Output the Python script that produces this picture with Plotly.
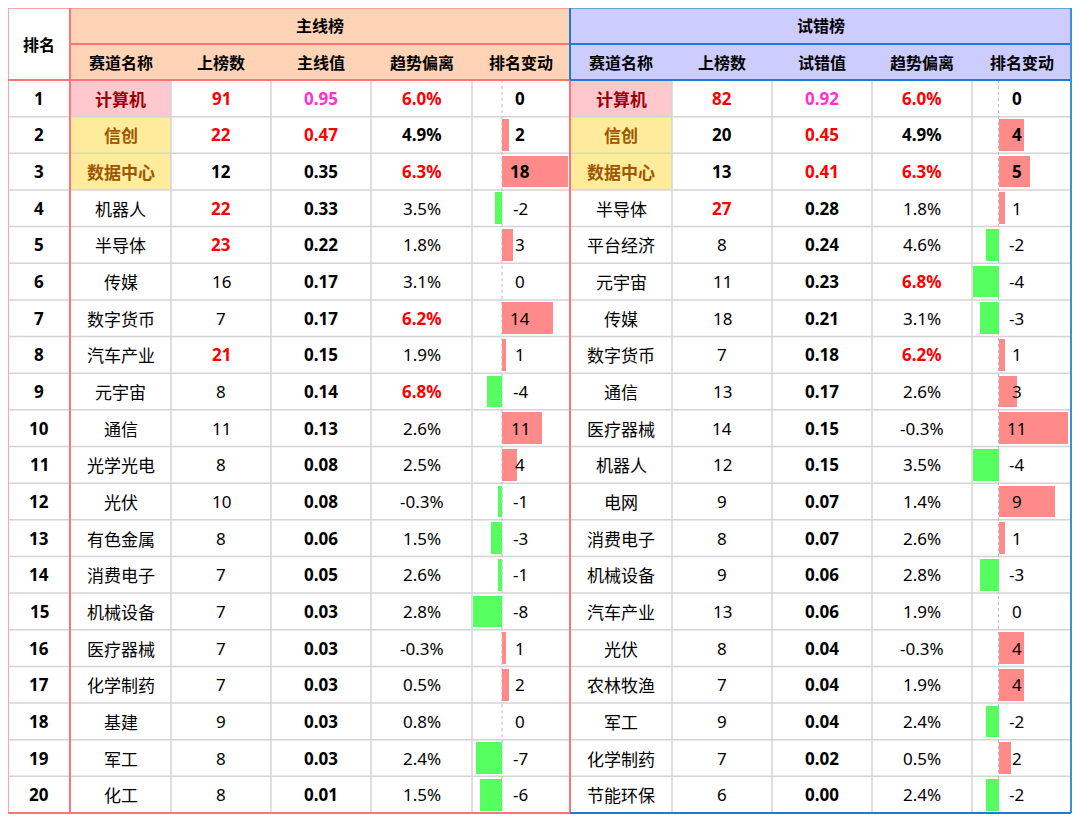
import plotly.graph_objects as go

# ---- data ----
ranks = list(range(1, 21))

main_names = ["计算机", "信创", "数据中心", "机器人", "半导体", "传媒", "数字货币", "汽车产业", "元宇宙", "通信",
              "光学光电", "光伏", "有色金属", "消费电子", "机械设备", "医疗器械", "化学制药", "基建", "军工", "化工"]
main_count = [91, 22, 12, 22, 23, 16, 7, 21, 8, 11, 8, 10, 8, 7, 7, 7, 7, 9, 8, 8]
main_value = [0.95, 0.47, 0.35, 0.33, 0.22, 0.17, 0.17, 0.15, 0.14, 0.13,
              0.08, 0.08, 0.06, 0.05, 0.03, 0.03, 0.03, 0.03, 0.03, 0.01]
main_dev = [6.0, 4.9, 6.3, 3.5, 1.8, 3.1, 6.2, 1.9, 6.8, 2.6,
            2.5, -0.3, 1.5, 2.6, 2.8, -0.3, 0.5, 0.8, 2.4, 1.5]
main_chg = [0, 2, 18, -2, 3, 0, 14, 1, -4, 11, 4, -1, -3, -1, -8, 1, 2, 0, -7, -6]

trial_names = ["计算机", "信创", "数据中心", "半导体", "平台经济", "元宇宙", "传媒", "数字货币", "通信", "医疗器械",
               "机器人", "电网", "消费电子", "机械设备", "汽车产业", "光伏", "农林牧渔", "军工", "化学制药", "节能环保"]
trial_count = [82, 20, 13, 27, 8, 11, 18, 7, 13, 14, 12, 9, 8, 9, 13, 8, 7, 9, 7, 6]
trial_value = [0.92, 0.45, 0.41, 0.28, 0.24, 0.23, 0.21, 0.18, 0.17, 0.15,
               0.15, 0.07, 0.07, 0.06, 0.06, 0.04, 0.04, 0.04, 0.02, 0.00]
trial_dev = [6.0, 4.9, 6.3, 1.8, 4.6, 6.8, 3.1, 6.2, 2.6, -0.3,
             3.5, 1.4, 2.6, 2.8, 1.9, -0.3, 1.9, 2.4, 0.5, 2.4]
trial_chg = [0, 4, 5, 1, -2, -4, -3, 1, 3, 11, -4, 9, 1, -3, 0, 4, 4, -2, 2, -2]

sub_headers = ["赛道名称", "上榜数", "主线值", "趋势偏离", "排名变动"]
sub_headers_t = ["赛道名称", "上榜数", "试错值", "趋势偏离", "排名变动"]

# ---- layout constants ----
FONT = "Microsoft YaHei, Noto Sans CJK SC, sans-serif"
NUMFONT = "Segoe UI, Noto Sans, Noto Sans CJK SC, sans-serif"
edges = [8, 70, 171, 271, 371, 472, 570, 672, 772, 872, 972, 1071]
top, h1, h2 = 8, 44, 80
rh = 36.65
bottom = h2 + rh * 20
RED = "#FF0000"
MAG = "#FF33CC"
BORDER_R = "#FF7575"
BORDER_B = "#1F7BD2"
GRID = "#D4D4D4"
BAR_POS = "#FF8A8A"
BAR_NEG = "#55FF5F"

def ry(i):
    return h2 + rh * (i + 0.5)

fig = go.Figure()
shapes = []
ann = []

def rect(x0, y0, x1, y1, color):
    shapes.append(dict(type="rect", x0=x0, x1=x1, y0=y0, y1=y1, fillcolor=color,
                       line=dict(width=0), layer="below"))

def line(x0, y0, x1, y1, color, w=1, dash="solid", layer="above"):
    shapes.append(dict(type="line", x0=x0, x1=x1, y0=y0, y1=y1,
                       line=dict(color=color, width=w, dash=dash), layer=layer))

def text(x, y, s, color="black", bold=False, size=17, family=FONT):
    ann.append(dict(x=x, y=y, text=f"<b>{s}</b>" if bold else s, showarrow=False,
                    xanchor="center", yanchor="middle",
                    font=dict(family=family, size=size, color=color)))

def num(x, y, s, color="black", bold=False):
    text(x, y, s, color, bold, 17, NUMFONT)

# header fills
rect(edges[1], top, edges[6], h2, "#FFD3B6")
rect(edges[6], top, edges[11], h2, "#CCCCFF")

# highlighted name cells
for off in (1, 6):
    rect(edges[off], h2, edges[off + 1], h2 + rh, "#FFC7CE")
    rect(edges[off], h2 + rh, edges[off + 1], h2 + 3 * rh, "#FFEB9C")

# grid
for i in range(1, 20):
    y = h2 + rh * i
    line(edges[0], y, edges[11], y, GRID, 1.5, layer="below")
for k in range(2, 11):
    if k == 6:
        continue
    line(edges[k], h2, edges[k], bottom, GRID, 1.5, layer="below")

# zero lines for rank change
zero_m, scale_m = 502, 3.65
zero_t, scale_t = 998.5, 6.3
for z in (zero_m, zero_t):
    line(z, h2, z, bottom, "#BBBBBB", 1, "dot", layer="below")

# bars
for chg, z, sc in ((main_chg, zero_m, scale_m), (trial_chg, zero_t, scale_t)):
    fig.add_trace(go.Bar(
        y=[ry(i) for i in range(20)], x=[c * sc for c in chg], base=z,
        orientation="h", width=rh - 5,
        marker=dict(color=[BAR_POS if c > 0 else BAR_NEG for c in chg], line=dict(width=0)),
        hoverinfo="skip", showlegend=False,
    ))

# borders
PINK = "#FFA3A3"
line(edges[0], top, edges[0], bottom, PINK, 2)
line(edges[0], top, edges[1], top, PINK, 2)
line(edges[1], top, edges[6], top, "#FF9E9E", 2)
line(edges[0], h2, edges[6], h2, BORDER_R, 2)
line(edges[1], h1, edges[6], h1, BORDER_R, 2)
line(edges[1], top, edges[1], bottom, BORDER_R, 2)
line(edges[0], bottom, edges[6], bottom, BORDER_R, 2)
line(edges[6], h2, edges[6], bottom, BORDER_R, 2)
line(edges[6], top, edges[11], top, "#6AA6DD", 2)
line(edges[6], h1, edges[11], h1, BORDER_B, 2)
line(edges[6], h2, edges[11], h2, BORDER_B, 2)
line(edges[6], top, edges[6], h2, BORDER_B, 2)
line(edges[11], top, edges[11], bottom, "#3F8FD8", 2)
line(edges[6], bottom, edges[11], bottom, BORDER_B, 2)

# header texts
text((edges[0] + edges[1]) / 2, (top + h2) / 2, "排名", bold=True, size=16)
text((edges[1] + edges[6]) / 2, (top + h1) / 2 - 1, "主线榜", bold=True, size=16)
text((edges[6] + edges[11]) / 2, (top + h1) / 2 - 1, "试错榜", bold=True, size=16)
for k, s in enumerate(sub_headers):
    text((edges[1 + k] + edges[2 + k]) / 2, (h1 + h2) / 2, s, bold=True, size=16)
for k, s in enumerate(sub_headers_t):
    text((edges[6 + k] + edges[7 + k]) / 2, (h1 + h2) / 2, s, bold=True, size=16)

def cx(k):
    return (edges[k] + edges[k + 1]) / 2

for i in range(20):
    y = ry(i)
    top3 = i < 3
    num(cx(0), y, str(ranks[i]), bold=True)
    for off, names, cnt, val, dev, chg, z in (
        (1, main_names, main_count, main_value, main_dev, main_chg, zero_m),
        (6, trial_names, trial_count, trial_value, trial_dev, trial_chg, zero_t),
    ):
        if i == 0:
            text(cx(off), y, names[i], "#9C0006", True)
        elif top3:
            text(cx(off), y, names[i], "#9C5700", True)
        else:
            text(cx(off), y, names[i])
        num(cx(off + 1), y, str(cnt[i]), RED if cnt[i] > 20 else "black", cnt[i] > 20 or top3)
        vcol = MAG if val[i] >= 0.9 else (RED if val[i] >= 0.4 else "black")
        num(cx(off + 2), y, f"{val[i]:.2f}", vcol, True)
        hot = dev[i] >= 6
        num(cx(off + 3), y, f"{dev[i]:.1f}%", RED if hot else "black", hot or top3)
        num(z + 18, y, str(chg[i]), bold=top3)

# the page body adds an 8px offset, so the axes start 8px in
fig.update_layout(
    width=1080, height=823,
    margin=dict(l=0, r=0, t=0, b=0),
    paper_bgcolor="white", plot_bgcolor="white",
    xaxis=dict(range=[8, 1088], visible=False, fixedrange=True),
    yaxis=dict(range=[831, 8], visible=False, fixedrange=True),
    shapes=shapes, annotations=ann,
    bargap=0, barmode="overlay",
)

fig.write_html("out.html")
